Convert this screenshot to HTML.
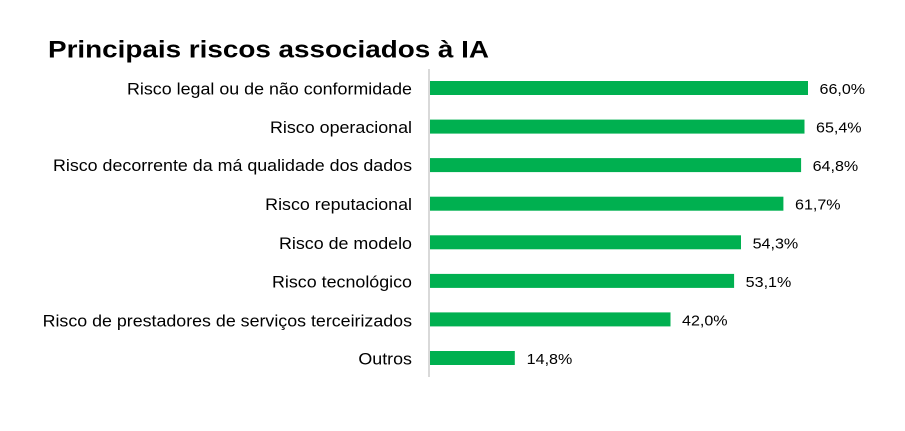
<!DOCTYPE html>
<html>
<head>
<meta charset="utf-8">
<style>
  html, body { margin: 0; padding: 0; background: #ffffff; }
  body { width: 905px; height: 431px; overflow: hidden; }
  svg { display: block; }
  .t { font-family: "Liberation Sans", Arial, sans-serif; font-weight: bold; font-size: 24px; fill: #000; }
  .c { font-family: "Liberation Sans", Arial, sans-serif; font-size: 16.4px; fill: #000; }
  .v { font-family: "Liberation Sans", Arial, sans-serif; font-size: 15px; fill: #000; }
</style>
</head>
<body>
<svg width="905" height="431" viewBox="0 0 905 431" xmlns="http://www.w3.org/2000/svg">
  <rect width="905" height="431" fill="#ffffff"/>
  <text class="t" x="48" y="57.3" textLength="441" lengthAdjust="spacingAndGlyphs">Principais riscos associados à IA</text>

  <!-- axis -->
  <rect x="428" y="69" width="2" height="308" fill="#d9d9d9"/>

  <!-- bars -->
  <g fill="#00b050">
    <rect x="430" y="81" width="378" height="14"/>
    <rect x="430" y="119.6" width="374.5" height="14"/>
    <rect x="430" y="158.1" width="371.1" height="14"/>
    <rect x="430" y="196.7" width="353.4" height="14"/>
    <rect x="430" y="235.3" width="311" height="14"/>
    <rect x="430" y="273.9" width="304.1" height="14"/>
    <rect x="430" y="312.4" width="240.5" height="14"/>
    <rect x="430" y="351" width="84.8" height="14"/>
  </g>

  <!-- category labels -->
  <g class="c" text-anchor="end">
    <text x="412" y="94.5" textLength="285" lengthAdjust="spacingAndGlyphs">Risco legal ou de não conformidade</text>
    <text x="412" y="133.1" textLength="142" lengthAdjust="spacingAndGlyphs">Risco operacional</text>
    <text x="412" y="171.2" textLength="359" lengthAdjust="spacingAndGlyphs">Risco decorrente da má qualidade dos dados</text>
    <text x="412" y="210.2" textLength="146.8" lengthAdjust="spacingAndGlyphs">Risco reputacional</text>
    <text x="412" y="248.8" textLength="133" lengthAdjust="spacingAndGlyphs">Risco de modelo</text>
    <text x="412" y="287.4" textLength="140" lengthAdjust="spacingAndGlyphs">Risco tecnológico</text>
    <text x="412" y="326.5" textLength="369.4" lengthAdjust="spacingAndGlyphs">Risco de prestadores de serviços terceirizados</text>
    <text x="412" y="364.5" textLength="53.6" lengthAdjust="spacingAndGlyphs">Outros</text>
  </g>

  <!-- value labels -->
  <g class="v">
    <text x="819.5" y="94" textLength="45.6" lengthAdjust="spacingAndGlyphs">66,0%</text>
    <text x="816" y="132.6" textLength="45.6" lengthAdjust="spacingAndGlyphs">65,4%</text>
    <text x="812.6" y="171.1" textLength="45.6" lengthAdjust="spacingAndGlyphs">64,8%</text>
    <text x="795" y="209.7" textLength="45.6" lengthAdjust="spacingAndGlyphs">61,7%</text>
    <text x="752.6" y="248.3" textLength="45.6" lengthAdjust="spacingAndGlyphs">54,3%</text>
    <text x="745.7" y="286.9" textLength="45.6" lengthAdjust="spacingAndGlyphs">53,1%</text>
    <text x="682" y="325.4" textLength="45.6" lengthAdjust="spacingAndGlyphs">42,0%</text>
    <text x="526.7" y="364" textLength="45.6" lengthAdjust="spacingAndGlyphs">14,8%</text>
  </g>
</svg>
</body>
</html>
